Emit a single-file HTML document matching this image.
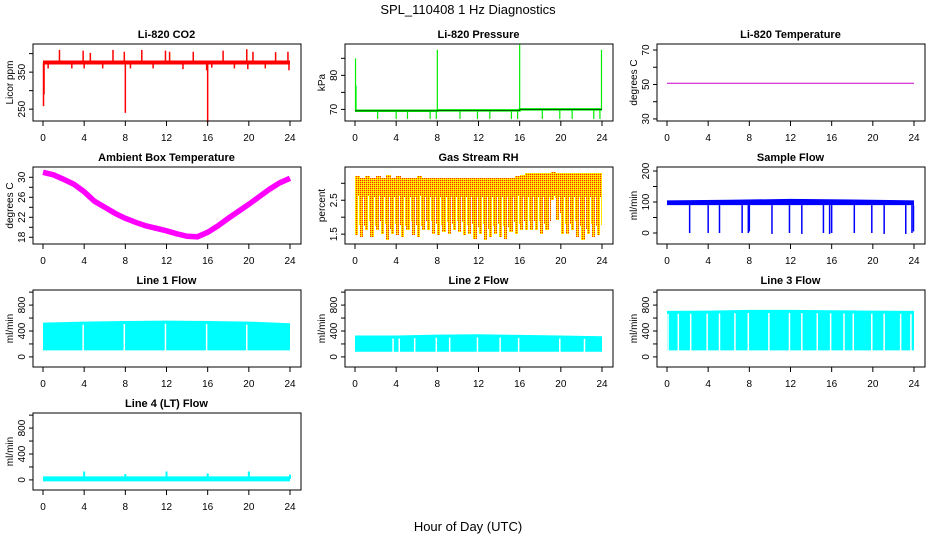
<!DOCTYPE html>
<html><head><meta charset="utf-8"><style>
html,body{margin:0;padding:0;background:#fff;}
svg{display:block;font-family:"Liberation Sans",sans-serif;}
</style></head><body>
<svg id="chart" width="936" height="540" viewBox="0 0 936 540" xmlns="http://www.w3.org/2000/svg">
<defs>
<pattern id="rhpat" width="2" height="2" patternUnits="userSpaceOnUse">
<rect width="2" height="2" fill="#ffcc00"/><rect width="1" height="1" fill="#ff3000"/><rect x="1" y="1" width="1" height="1" fill="#ffff00"/>
</pattern>
</defs>
<text x="468" y="14" text-anchor="middle" font-size="13">SPL_110408  1 Hz Diagnostics</text>
<text x="468" y="531" text-anchor="middle" font-size="13">Hour of Day (UTC)</text>
</svg>
<script>
// ---- data ----
const xTicks = [0,4,8,12,16,20,24];
const co2BaseHours = [0,4,8,12,16,20,24];
const co2BaseVals = [376,376,376,376,376,376,376];
const co2SpikeHours = [0.05,0.1,0.5,1.6,2.8,3.9,4.0,4.6,5.8,6.8,7.9,8.0,8.5,9.6,10.7,11.9,12.3,13.6,14.6,15.9,16.0,16.4,17.5,18.6,19.8,19.9,20.4,21.6,22.6,23.8,23.9];
const co2SpikeVals = [258,290,360,410,360,408,360,402,360,410,405,240,360,410,360,408,405,358,405,355,215,362,408,360,412,358,405,360,404,405,355];
const presBaseHours = [0,8,8.01,16,16.01,24];
const presBaseVals = [69.6,69.6,69.7,69.7,70,70];
const presSpikeHours = [0.05,0.1,2.2,4.0,5.1,7.3,7.9,8.0,10.2,11.9,13.1,15.2,15.8,16.0,18.2,19.9,21.1,23.2,23.8,23.95];
const presSpikeVals = [85,77,67.2,67.2,67.2,67.2,67.2,87.5,67.2,67.2,67.2,67.2,67.2,89,67.2,67.2,67.2,67.2,67.2,87.5];
const liTempHours = [0,24];
const liTempVals = [50.7,50.7];
const ambHours = [0,1,2,3,4,5,6,7,8,9,10,11,12,13,14,15,16,17,18,19,20,21,22,23,24];
const ambVals = [31,30.5,29.6,28.6,27.1,25.2,24.0,22.8,21.8,21.0,20.3,19.8,19.3,18.7,18.2,18.1,19.0,20.3,21.8,23.2,24.6,26.1,27.6,28.9,29.8];
const rhHours = [0,0.5,1,1.5,2,2.5,3,3.5,4,4.5,5,5.5,6,6.5,7,7.5,8,8.5,9,9.5,10,10.5,11,11.5,12,12.5,13,13.5,14,14.5,15,15.5,16,16.5,17,17.5,18,18.5,19,19.5,20,20.5,21,21.5,22,22.5,23,23.5];
const rhTop = [3.2,3.15,3.2,3.15,3.2,3.15,3.25,3.15,3.2,3.15,3.15,3.15,3.2,3.15,3.15,3.15,3.15,3.15,3.15,3.15,3.15,3.15,3.15,3.15,3.15,3.15,3.15,3.15,3.15,3.15,3.15,3.2,3.25,3.3,3.3,3.3,3.3,3.3,3.32,3.3,3.3,3.3,3.3,3.3,3.3,3.3,3.3,3.3];
const rhBottom = [1.45,1.4,1.6,1.4,1.6,1.5,1.3,1.5,1.45,1.4,1.6,1.45,1.4,1.6,1.6,1.5,1.45,1.55,1.5,1.6,1.55,1.45,1.5,1.35,1.5,1.3,1.4,1.5,1.4,1.35,1.55,1.5,1.6,1.6,1.6,1.6,1.5,1.6,2.5,1.9,1.5,1.5,1.6,1.4,1.3,1.5,1.4,1.45];
const sfBandLow = [90,90,90,90,90];
const sfBandHigh = [105,107,110,108,105];
const sfBandHours = [0,6,12,18,24];
const sfDipHours = [2.2,4.0,5.1,7.3,7.9,8.0,10.2,11.9,13.1,15.2,15.8,16.0,18.2,19.9,21.1,23.2,23.8,23.95];
const sfDipVals = [0,0,0,0,0,5,-3,0,-3,0,-3,0,0,0,-3,-3,0,5];
const l1Hours = [0,4,8,12,16,20,24];
const l1Top = [530,545,555,560,555,545,520];
const l1Bottom = [100,100,100,100,100,100,100];
const l1Gaps = [3.9,7.9,11.9,15.9,19.8];
const l2Hours = [0,4,8,12,16,20,24];
const l2Top = [330,330,345,350,340,330,320];
const l2Bottom = [80,80,80,80,80,80,80];
const l2Gaps = [3.7,4.3,5.8,7.9,9.2,11.9,14.1,15.9,19.9,22.3];
const l3Hours = [0,4,8,12,16,20,24];
const l3Top = [710,715,725,725,720,715,710];
const l3Bottom = [100,100,100,100,100,100,100];
const l3Gaps = [0.1,1.1,2.3,3.9,5.1,6.6,7.9,9.9,11.9,13.1,14.6,15.9,17.2,18.1,19.9,21.1,22.7,23.7];
const l4Hours = [0,24];
const l4Vals = [15,15];
const l4SpikeHours = [4.0,8.0,12.0,16.0,20.0,24.0];
const l4SpikeVals = [130,90,130,100,130,80];

// ---- layout ----
const NS = "http://www.w3.org/2000/svg";
const svg = document.getElementById('chart');
const colX0 = [43,355,667];
const rowTop = [44,167,290,413];
const PW = 247, PH = 77;
function mk(tag, attrs, parent){
  const e = document.createElementNS(NS, tag);
  for (const k in attrs) e.setAttribute(k, attrs[k]);
  (parent||svg).appendChild(e);
  return e;
}
function panel(name, col, row, title, ylim, yticks, ylabels, ytitle){
  const x0 = colX0[col], top = rowTop[row];
  const g = mk('g', {});
  
  
  const sx = h => x0 + h * PW / 24;
  const sy = v => top + (ylim[1] - v) / (ylim[1] - ylim[0]) * PH;
  const t = mk('text', {x: x0 + PW/2, y: top - 6, 'text-anchor':'middle', 'font-size':'11', 'font-weight':'bold'}, g);
  t.textContent = title;
  
  
  const dataG = mk('g', {}, g);
  
  
  const box = mk('rect', {x: x0 - 10, y: top, width: PW + 21, height: PH, fill:'none', stroke:'#000', 'stroke-width':'1'}, g);
  
  
  const xa = mk('g', {}, g);
  
  
  mk('line', {x1: sx(0), x2: sx(24), y1: top+PH, y2: top+PH, stroke:'#000'}, xa);
  xTicks.forEach(h => {
    mk('line', {x1: sx(h), x2: sx(h), y1: top+PH, y2: top+PH+5, stroke:'#000'}, xa);
    const lb = mk('text', {x: sx(h), y: top+PH+20, 'text-anchor':'middle', 'font-size':'10'}, xa);
    lb.textContent = h;
    
    
  });
  const ya = mk('g', {}, g);
  
  
  const bl = x0 - 10;
  yticks.forEach(v => {
    mk('line', {x1: bl, x2: bl-4, y1: sy(v), y2: sy(v), stroke:'#000'}, ya);
  });
  ylabels.forEach(v => {
    const lb = mk('text', {x: 0, y: 0, 'text-anchor':'middle', 'font-size':'10', transform:`translate(${bl-8},${sy(v)}) rotate(-90)`}, ya);
    lb.textContent = v;
    
    
  });
  const yt = mk('text', {x:0, y:0, 'text-anchor':'middle', 'font-size':'10', transform:`translate(${bl-20},${top+PH/2}) rotate(-90)`}, ya);
  yt.textContent = ytitle;
  
  
  return {g: dataG, sx, sy};
}
function interp(hs, vs, h){
  for (let i = 0; i < hs.length - 1; i++) if (h <= hs[i+1]) { const f = (h - hs[i]) / (hs[i+1] - hs[i]); return vs[i] + f * (vs[i+1] - vs[i]); }
  return vs[vs.length-1];
}
function line(p, hs, vs, color, w, name){
  const pts = hs.map((h,i) => p.sx(h).toFixed(1) + ',' + p.sy(vs[i]).toFixed(1)).join(' ');
  const e = mk('polyline', {points: pts, fill:'none', stroke: color, 'stroke-width': w}, p.g);
  
  
}
function spikes(p, hs, vs, baseH, baseV, color, w, name){
  hs.forEach((h,i) => {
    const b = interp(baseH, baseV, h);
    const e = mk('line', {x1: p.sx(h), x2: p.sx(h), y1: p.sy(b), y2: p.sy(vs[i]), stroke: color, 'stroke-width': w}, p.g);
    
    
  });
}
function band(p, hs, tops, bots, gaps, fill, name){
  const pts = hs.map((h,i) => p.sx(h).toFixed(1)+','+p.sy(tops[i]).toFixed(1))
    .concat(hs.slice().reverse().map((h,j) => { const i = hs.length-1-j; return p.sx(h).toFixed(1)+','+p.sy(bots[i]).toFixed(1); }));
  const e = mk('polygon', {points: pts.join(' '), fill: fill}, p.g);
  
  
  gaps.forEach(h => {
    const gp = mk('line', {x1: p.sx(h), x2: p.sx(h), y1: p.sy(interp(hs,tops,h))+3, y2: p.sy(interp(hs,bots,h))+1, stroke:'#fff', 'stroke-width':'1.5'}, p.g);
    
    
  });
}

// CO2
let p = panel('co2', 0, 0, 'Li-820 CO2', [218,426], [250,300,350,400], [250,350], 'Licor ppm');
line(p, co2BaseHours, co2BaseVals, '#ff0000', 4, 'co2-line');
spikes(p, co2SpikeHours, co2SpikeVals, co2BaseHours, co2BaseVals, '#ff0000', 1.5, 'co2-spike');

// Pressure
p = panel('pressure', 1, 0, 'Li-820 Pressure', [66.6,89.2], [70,75,80,85], [70,80], 'kPa');
line(p, presBaseHours, presBaseVals, '#00ee00', 2.5, 'pressure-line');
spikes(p, presSpikeHours, presSpikeVals, presBaseHours, presBaseVals, '#00ee00', 1.2, 'pressure-spike');
line(p, presBaseHours, presBaseVals, '#000', 0.6, 'pressure-dots');

// Li-820 temp
p = panel('li820-temp', 2, 0, 'Li-820 Temperature', [28.8,73.5], [30,40,50,60,70], [30,50,70], 'degrees C');
line(p, liTempHours, liTempVals, '#cc00cc', 1, 'li820-temp-line');

// Ambient
p = panel('ambient-temp', 0, 1, 'Ambient Box Temperature', [16.66,32.06], [18,20,22,24,26,28,30], [18,22,26,30], 'degrees C');
line(p, ambHours, ambVals, '#ff00ff', 5.5, 'ambient-temp-line');

// RH
p = panel('gas-rh', 1, 1, 'Gas Stream RH', [1.21,3.48], [1.5,2.0,2.5,3.0], [1.5,2.5], 'percent');
rhHours.forEach((h,i) => {
  const x1 = Math.round(p.sx(h)), x2 = Math.round(p.sx(Math.min(h+0.5,24)));
  const r = mk('rect', {x: x1, y: Math.round(p.sy(rhTop[i])), width: x2-x1, height: Math.round(p.sy(2.6)-p.sy(rhTop[i])), fill:'url(#rhpat)'}, p.g);
  
  
  const r2 = mk('rect', {x: x1, y: Math.round(p.sy(2.7)), width: Math.max(1, Math.round((x2-x1)*0.6)), height: Math.round(p.sy(rhBottom[i])-p.sy(2.7)), fill:'url(#rhpat)'}, p.g);
  
  
  const r3 = mk('rect', {x: x1 + Math.round((x2-x1)*0.6)+1, y: Math.round(p.sy(2.7)), width: Math.max(1, x2-x1-Math.round((x2-x1)*0.6)-1), height: Math.round((p.sy(rhBottom[i])-p.sy(2.7))*0.75), fill:'url(#rhpat)'}, p.g);
  
  
});

// Sample flow
p = panel('sample-flow', 2, 1, 'Sample Flow', [-35.5,212.9], [0,50,100,150,200], [0,100,200], 'ml/min');
band(p, sfBandHours, sfBandHigh, sfBandLow, [], '#0000ff', 'sample-flow-band');
spikes(p, sfDipHours, sfDipVals, sfBandHours, sfBandLow, '#0000ff', 1.5, 'sample-flow-dip');

// Line flows
const flowLim = [-156,1033], flowTicks = [0,200,400,600,800,1000], flowLabels = [0,400,800];
p = panel('line1-flow', 0, 2, 'Line 1 Flow', flowLim, flowTicks, flowLabels, 'ml/min');
band(p, l1Hours, l1Top, l1Bottom, l1Gaps, '#00ffff', 'line1-flow-band');
p = panel('line2-flow', 1, 2, 'Line 2 Flow', flowLim, flowTicks, flowLabels, 'ml/min');
band(p, l2Hours, l2Top, l2Bottom, l2Gaps, '#00ffff', 'line2-flow-band');
p = panel('line3-flow', 2, 2, 'Line 3 Flow', flowLim, flowTicks, flowLabels, 'ml/min');
band(p, l3Hours, l3Top, l3Bottom, l3Gaps, '#00ffff', 'line3-flow-band');
p = panel('line4-flow', 0, 3, 'Line 4 (LT) Flow', flowLim, flowTicks, flowLabels, 'ml/min');
line(p, l4Hours, l4Vals, '#00ffff', 5, 'line4-flow-line');
spikes(p, l4SpikeHours, l4SpikeVals, l4Hours, l4Vals, '#00ffff', 2, 'line4-flow-spike');
</script>
</body></html>
